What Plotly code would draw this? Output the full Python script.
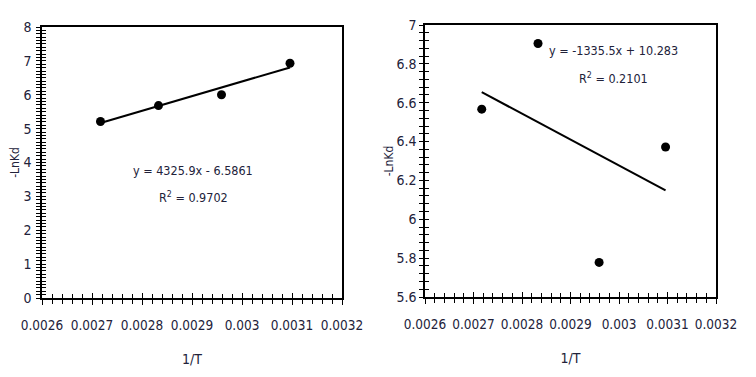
import plotly.graph_objects as go

# data
inv_T = [0.002717, 0.002833, 0.002959, 0.003096]
lnkd_a = [5.21, 5.68, 6.0, 6.93]
lnkd_b = [6.567, 6.905, 5.778, 6.372]

fit_a = (4325.9, -6.5861)
fit_b = (-1335.5, 10.283)
eq_a = ["y = 4325.9x - 6.5861", "R<sup>2</sup> = 0.9702"]
eq_b = ["y = -1335.5x + 10.283", "R<sup>2</sup> = 0.2101"]

font = "DejaVu Sans Condensed, Liberation Sans Narrow, Roboto, sans-serif"
txt = "#22223a"
W, H = 756, 377
OFF = 8  # page body margin shifts the figure by 8px

fig = go.Figure()


def add_panel(ys, fit, xa, ya):
    # points
    fig.add_trace(go.Scatter(x=inv_T, y=ys, mode="markers",
                             marker=dict(color="black", size=9),
                             xaxis=xa, yaxis=ya, showlegend=False))
    # linear trendline
    xs = [inv_T[0], inv_T[-1]]
    fig.add_trace(go.Scatter(x=xs, y=[fit[0] * v + fit[1] for v in xs],
                             mode="lines", line=dict(color="black", width=2),
                             xaxis=xa, yaxis=ya, showlegend=False))


add_panel(lnkd_a, fit_a, "x", "y")
add_panel(lnkd_b, fit_b, "x2", "y2")

# invisible traces so the overlay axes (inside ticks) get drawn
for xa, ya, ys in [("x3", "y3", lnkd_a), ("x4", "y4", lnkd_b)]:
    fig.add_trace(go.Scatter(x=inv_T, y=ys, mode="markers",
                             marker=dict(opacity=0), hoverinfo="skip",
                             xaxis=xa, yaxis=ya, showlegend=False))


def xdom(l, r):
    return [(l - OFF) / W, (r - OFF) / W]


def ydom(t, b):
    return [1 - (b - OFF) / H, 1 - (t - OFF) / H]


xr = [0.0026, 0.0032]
common_x = dict(range=xr, dtick=0.0001, tick0=0.0026, showgrid=False,
                zeroline=False, showline=True, linecolor="black", linewidth=1.5,
                tickcolor="black", ticklen=5, tickwidth=1, automargin=False,
                tickfont=dict(family=font, size=13.5, color=txt))
minor_x = dict(dtick=0.00002, ticklen=4, tickcolor="black", tickwidth=1)

dom_a, dom_b = xdom(42, 342), xdom(425, 716)
ydom_a, ydom_b = ydom(27, 298), ydom(25, 297)

axis_y = lambda rng, dt, mdt: dict(
    range=rng, dtick=dt, showgrid=False, zeroline=False, showline=True,
    linecolor="black", linewidth=1.5, tickcolor="black", ticklen=4,
    automargin=False, tickfont=dict(family=font, size=14, color=txt),
    minor=dict(dtick=mdt, ticklen=4, tickcolor="black", ticks="outside"))

xtitle = dict(text="1/T", font=dict(family=font, size=14, color=txt), standoff=22)

fig.update_layout(
    width=W, height=H,
    margin=dict(l=0, r=0, t=0, b=0),
    paper_bgcolor="white", plot_bgcolor="white",
    xaxis=dict(common_x, domain=dom_a, anchor="y", ticks="outside",
               mirror=True, ticklabelstandoff=9,
               minor=dict(minor_x, ticks="outside"), title=xtitle),
    yaxis=dict(axis_y([0, 8], 1, 0.1), domain=ydom_a, anchor="x",
               ticks="outside", mirror=True, ticklabelstandoff=2,
               title=dict(text="-LnKd", font=dict(family=font, size=12, color=txt),
                          standoff=2)),
    xaxis2=dict(common_x, domain=dom_b, anchor="y2", ticks="outside",
                mirror=True, ticklabelstandoff=9,
                minor=dict(minor_x, ticks="outside"), title=xtitle),
    yaxis2=dict(axis_y([5.6, 7], 0.2, 0.04), domain=ydom_b, anchor="x2",
                ticks="outside", mirror=True, tickformat="~g",
                title=dict(text="-LnKd", font=dict(family=font, size=12, color=txt),
                           standoff=0)),
    # overlay axes with inside ticks so the ticks cross the axis line
    xaxis3=dict(common_x, overlaying="x", anchor="y3", ticks="inside",
                showticklabels=False, minor=dict(minor_x, ticks="inside")),
    yaxis3=dict(axis_y([0, 8], 1, 0.1), overlaying="y", anchor="x3",
                ticks="inside", showticklabels=False),
    xaxis4=dict(common_x, overlaying="x2", anchor="y4", ticks="inside",
                showticklabels=False, minor=dict(minor_x, ticks="inside")),
    yaxis4=dict(axis_y([5.6, 7], 0.2, 0.04), overlaying="y2", anchor="x4",
                ticks="inside", showticklabels=False),
)
fig.update_layout(yaxis3=dict(minor=dict(ticks="inside")),
                  yaxis4=dict(minor=dict(ticks="inside")))

# trendline labels
for lines, xc, ys in [(eq_a, 193, [170, 197]), (eq_b, 613, [51, 78])]:
    for t, yp in zip(lines, ys):
        fig.add_annotation(text=t, x=(xc - OFF) / W, y=1 - (yp - OFF) / H,
                           xref="paper", yref="paper", showarrow=False,
                           xanchor="center", yanchor="middle",
                           font=dict(family=font, size=12.5, color=txt))

fig.write_html("out.html")
